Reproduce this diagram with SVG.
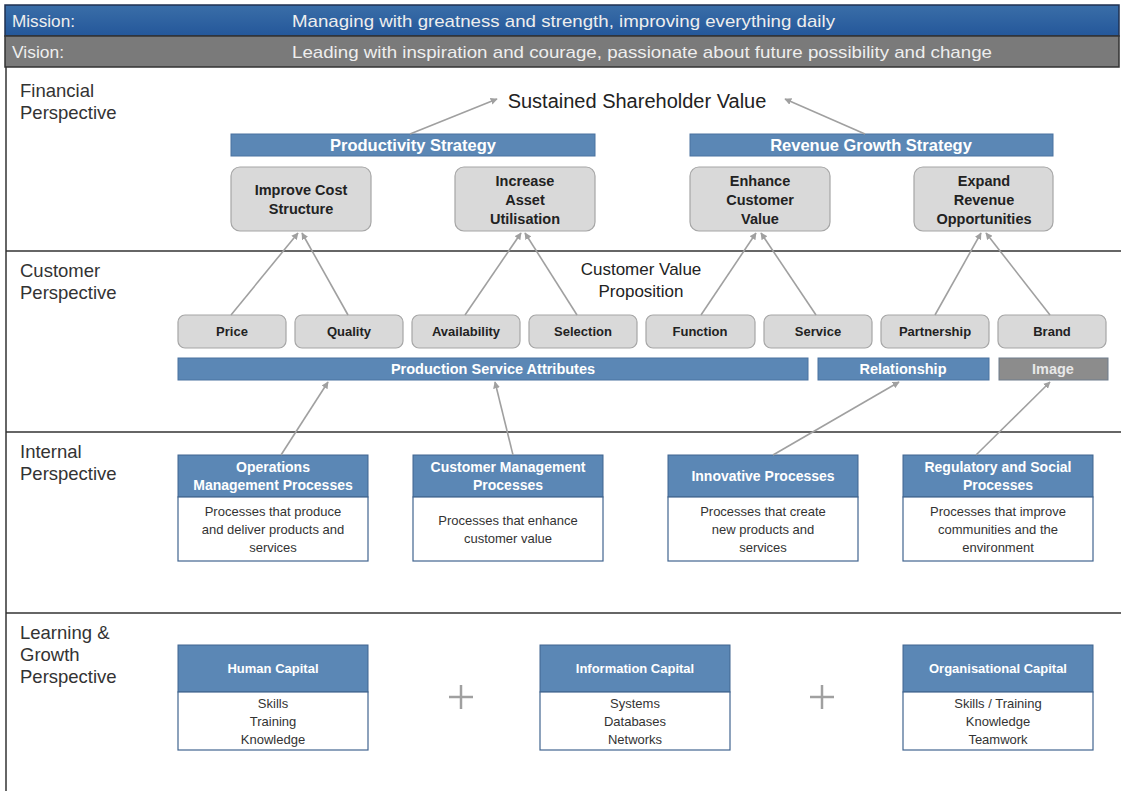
<svg xmlns="http://www.w3.org/2000/svg" width="1121" height="791" viewBox="0 0 1121 791">
<defs>
<marker id="ah" viewBox="0 0 10 10" refX="9" refY="5" markerWidth="7" markerHeight="7" orient="auto" markerUnits="userSpaceOnUse">
<path d="M0,0 L10,5 L0,10 z" fill="#a0a0a0"/>
</marker>
<linearGradient id="mg" x1="0" y1="0" x2="0" y2="1">
<stop offset="0" stop-color="#3a6ea8"/><stop offset="1" stop-color="#24579a"/>
</linearGradient>
<style>
text{font-family:"Liberation Sans",Arial,sans-serif}
.persp{font-size:18.5px;fill:#333}
.bar{fill:#5b87b5;stroke:#4a72a0;stroke-width:1}
.bart{font-size:16.5px;font-weight:bold;fill:#fff;text-anchor:middle}
.bart2{font-size:14.5px;font-weight:bold;fill:#fff;text-anchor:middle}
.gbox{fill:#d9d9d9;stroke:#a6a6a6;stroke-width:1.2}
.gt{font-size:13px;font-weight:bold;fill:#222;text-anchor:middle}
.gt2{font-size:14.5px;font-weight:bold;fill:#222;text-anchor:middle}
.hd{fill:#5b87b5;stroke:#41658f;stroke-width:1}
.hdt{font-size:14px;font-weight:bold;fill:#fff;text-anchor:middle}
.hdt2{font-size:13px;font-weight:bold;fill:#fff;text-anchor:middle}
.bd{fill:#fff;stroke:#41658f;stroke-width:1.2}
.bdt{font-size:13px;fill:#333;text-anchor:middle}
.conn line{stroke:#a0a0a0;stroke-width:1.6;marker-end:url(#ah)}
.div{stroke:#333;stroke-width:1.5}
.top{font-size:17px;fill:#eee}
</style>
</defs>
<rect width="1121" height="791" fill="#fff"/>
<g id="header">
<rect x="5" y="5" width="1114" height="31" fill="url(#mg)" stroke="#1f3050" stroke-width="1.5"/>
<text class="top" x="12" y="27" textLength="63" lengthAdjust="spacingAndGlyphs">Mission:</text>
<text class="top" x="292" y="27" textLength="543" lengthAdjust="spacingAndGlyphs">Managing with greatness and strength, improving everything daily</text>
<rect x="5" y="36" width="1114" height="31" fill="#7a7a7a" stroke="#333" stroke-width="1.5"/>
<text class="top" x="12" y="58" textLength="52" lengthAdjust="spacingAndGlyphs">Vision:</text>
<text class="top" x="292" y="58" textLength="700" lengthAdjust="spacingAndGlyphs">Leading with inspiration and courage, passionate about future possibility and change</text>
</g>
<g id="frame">
<line class="div" x1="6" y1="67" x2="6" y2="791"/>
<line class="div" x1="6" y1="251" x2="1121" y2="251"/>
<line class="div" x1="6" y1="432" x2="1121" y2="432"/>
<line class="div" x1="6" y1="613" x2="1121" y2="613"/>
</g>
<g id="labels">
<text class="persp" x="20" y="97">Financial</text>
<text class="persp" x="20" y="119">Perspective</text>
<text class="persp" x="20" y="277">Customer</text>
<text class="persp" x="20" y="299">Perspective</text>
<text class="persp" x="20" y="458">Internal</text>
<text class="persp" x="20" y="480">Perspective</text>
<text class="persp" x="20" y="639">Learning &amp;</text>
<text class="persp" x="20" y="661">Growth</text>
<text class="persp" x="20" y="683">Perspective</text>
</g>
<g id="shareholder">
<text x="637" y="108" font-size="20" fill="#222" text-anchor="middle">Sustained Shareholder Value</text>
</g>
<g id="productivity">
<rect class="bar" x="231" y="134" width="364" height="22"/>
<text class="bart" x="413" y="151">Productivity Strategy</text>
</g>
<g id="revenue">
<rect class="bar" x="690" y="134" width="363" height="22"/>
<text class="bart" x="871" y="151">Revenue Growth Strategy</text>
</g>
<g id="improve-cost">
<rect class="gbox" x="231" y="167" width="140" height="64" rx="9"/>
<text class="gt2" x="301" y="195">Improve Cost</text>
<text class="gt2" x="301" y="214">Structure</text>
</g>
<g id="increase-asset">
<rect class="gbox" x="455" y="167" width="140" height="64" rx="9"/>
<text class="gt2" x="525" y="186">Increase</text>
<text class="gt2" x="525" y="205">Asset</text>
<text class="gt2" x="525" y="224">Utilisation</text>
</g>
<g id="enhance-customer">
<rect class="gbox" x="690" y="167" width="140" height="64" rx="9"/>
<text class="gt2" x="760" y="186">Enhance</text>
<text class="gt2" x="760" y="205">Customer</text>
<text class="gt2" x="760" y="224">Value</text>
</g>
<g id="expand-revenue">
<rect class="gbox" x="914" y="167" width="139" height="64" rx="9"/>
<text class="gt2" x="984" y="186">Expand</text>
<text class="gt2" x="984" y="205">Revenue</text>
<text class="gt2" x="984" y="224">Opportunities</text>
</g>
<g id="cvp">
<text x="641" y="275" font-size="17" fill="#222" text-anchor="middle">Customer Value</text>
<text x="641" y="297" font-size="17" fill="#222" text-anchor="middle">Proposition</text>
</g>
<g id="price"><rect class="gbox" x="178" y="315" width="108" height="33" rx="7"/><text class="gt" x="232" y="336">Price</text></g>
<g id="quality"><rect class="gbox" x="295" y="315" width="108" height="33" rx="7"/><text class="gt" x="349" y="336">Quality</text></g>
<g id="availability"><rect class="gbox" x="412" y="315" width="108" height="33" rx="7"/><text class="gt" x="466" y="336">Availability</text></g>
<g id="selection"><rect class="gbox" x="529" y="315" width="108" height="33" rx="7"/><text class="gt" x="583" y="336">Selection</text></g>
<g id="function"><rect class="gbox" x="646" y="315" width="109" height="33" rx="7"/><text class="gt" x="700" y="336">Function</text></g>
<g id="service"><rect class="gbox" x="764" y="315" width="108" height="33" rx="7"/><text class="gt" x="818" y="336">Service</text></g>
<g id="partnership"><rect class="gbox" x="881" y="315" width="108" height="33" rx="7"/><text class="gt" x="935" y="336">Partnership</text></g>
<g id="brand"><rect class="gbox" x="998" y="315" width="108" height="33" rx="7"/><text class="gt" x="1052" y="336">Brand</text></g>
<g id="production-service">
<rect class="bar" x="178" y="358" width="630" height="22"/>
<text class="bart2" x="493" y="374">Production Service Attributes</text>
</g>
<g id="relationship">
<rect class="bar" x="818" y="358" width="171" height="22"/>
<text class="bart2" x="903" y="374">Relationship</text>
</g>
<g id="image">
<rect x="999" y="358" width="109" height="22" fill="#8c8c8c" stroke="#6e7c8c" stroke-width="1"/>
<text class="bart2" x="1053" y="374" style="fill:#e8e8e8">Image</text>
</g>
<g id="operations">
<rect class="hd" x="178" y="455" width="190" height="42"/>
<text class="hdt" x="273" y="472">Operations</text>
<text class="hdt" x="273" y="490">Management Processes</text>
<rect class="bd" x="178" y="497" width="190" height="64"/>
<text class="bdt" x="273" y="516">Processes that produce</text>
<text class="bdt" x="273" y="534">and deliver products and</text>
<text class="bdt" x="273" y="552">services</text>
</g>
<g id="customer-management">
<rect class="hd" x="413" y="455" width="190" height="42"/>
<text class="hdt" x="508" y="472">Customer Management</text>
<text class="hdt" x="508" y="490">Processes</text>
<rect class="bd" x="413" y="497" width="190" height="64"/>
<text class="bdt" x="508" y="525">Processes that enhance</text>
<text class="bdt" x="508" y="543">customer value</text>
</g>
<g id="innovative">
<rect class="hd" x="668" y="455" width="190" height="42"/>
<text class="hdt" x="763" y="481">Innovative Processes</text>
<rect class="bd" x="668" y="497" width="190" height="64"/>
<text class="bdt" x="763" y="516">Processes that create</text>
<text class="bdt" x="763" y="534">new products and</text>
<text class="bdt" x="763" y="552">services</text>
</g>
<g id="regulatory">
<rect class="hd" x="903" y="455" width="190" height="42"/>
<text class="hdt" x="998" y="472">Regulatory and Social</text>
<text class="hdt" x="998" y="490">Processes</text>
<rect class="bd" x="903" y="497" width="190" height="64"/>
<text class="bdt" x="998" y="516">Processes that improve</text>
<text class="bdt" x="998" y="534">communities and the</text>
<text class="bdt" x="998" y="552">environment</text>
</g>
<g id="human-capital">
<rect class="hd" x="178" y="645" width="190" height="47"/>
<text class="hdt2" x="273" y="673">Human Capital</text>
<rect class="bd" x="178" y="692" width="190" height="58"/>
<text class="bdt" x="273" y="708">Skills</text>
<text class="bdt" x="273" y="726">Training</text>
<text class="bdt" x="273" y="744">Knowledge</text>
</g>
<g id="information-capital">
<rect class="hd" x="540" y="645" width="190" height="47"/>
<text class="hdt2" x="635" y="673">Information Capital</text>
<rect class="bd" x="540" y="692" width="190" height="58"/>
<text class="bdt" x="635" y="708">Systems</text>
<text class="bdt" x="635" y="726">Databases</text>
<text class="bdt" x="635" y="744">Networks</text>
</g>
<g id="organisational-capital">
<rect class="hd" x="903" y="645" width="190" height="47"/>
<text class="hdt2" x="998" y="673">Organisational Capital</text>
<rect class="bd" x="903" y="692" width="190" height="58"/>
<text class="bdt" x="998" y="708">Skills / Training</text>
<text class="bdt" x="998" y="726">Knowledge</text>
<text class="bdt" x="998" y="744">Teamwork</text>
</g>
<g id="plus" stroke="#a0a0a0" stroke-width="2.5">
<line x1="449" y1="697" x2="473" y2="697"/><line x1="461" y1="685" x2="461" y2="709"/>
<line x1="810" y1="697" x2="834" y2="697"/><line x1="822" y1="685" x2="822" y2="709"/>
</g>
<g class="conn" id="connectors">
<line x1="410" y1="134" x2="497" y2="99"/>
<line x1="865" y1="134" x2="785" y2="99"/>
<line x1="231" y1="315" x2="298" y2="233"/>
<line x1="348" y1="315" x2="302" y2="233"/>
<line x1="465" y1="315" x2="521" y2="233"/>
<line x1="577" y1="315" x2="525" y2="233"/>
<line x1="701" y1="315" x2="756" y2="233"/>
<line x1="816" y1="315" x2="761" y2="233"/>
<line x1="935" y1="315" x2="981" y2="233"/>
<line x1="1050" y1="315" x2="986" y2="233"/>
<line x1="281" y1="455" x2="328" y2="382"/>
<line x1="513" y1="455" x2="495" y2="382"/>
<line x1="773" y1="455" x2="899" y2="382"/>
<line x1="976" y1="455" x2="1050" y2="382"/>
</g>
</svg>
